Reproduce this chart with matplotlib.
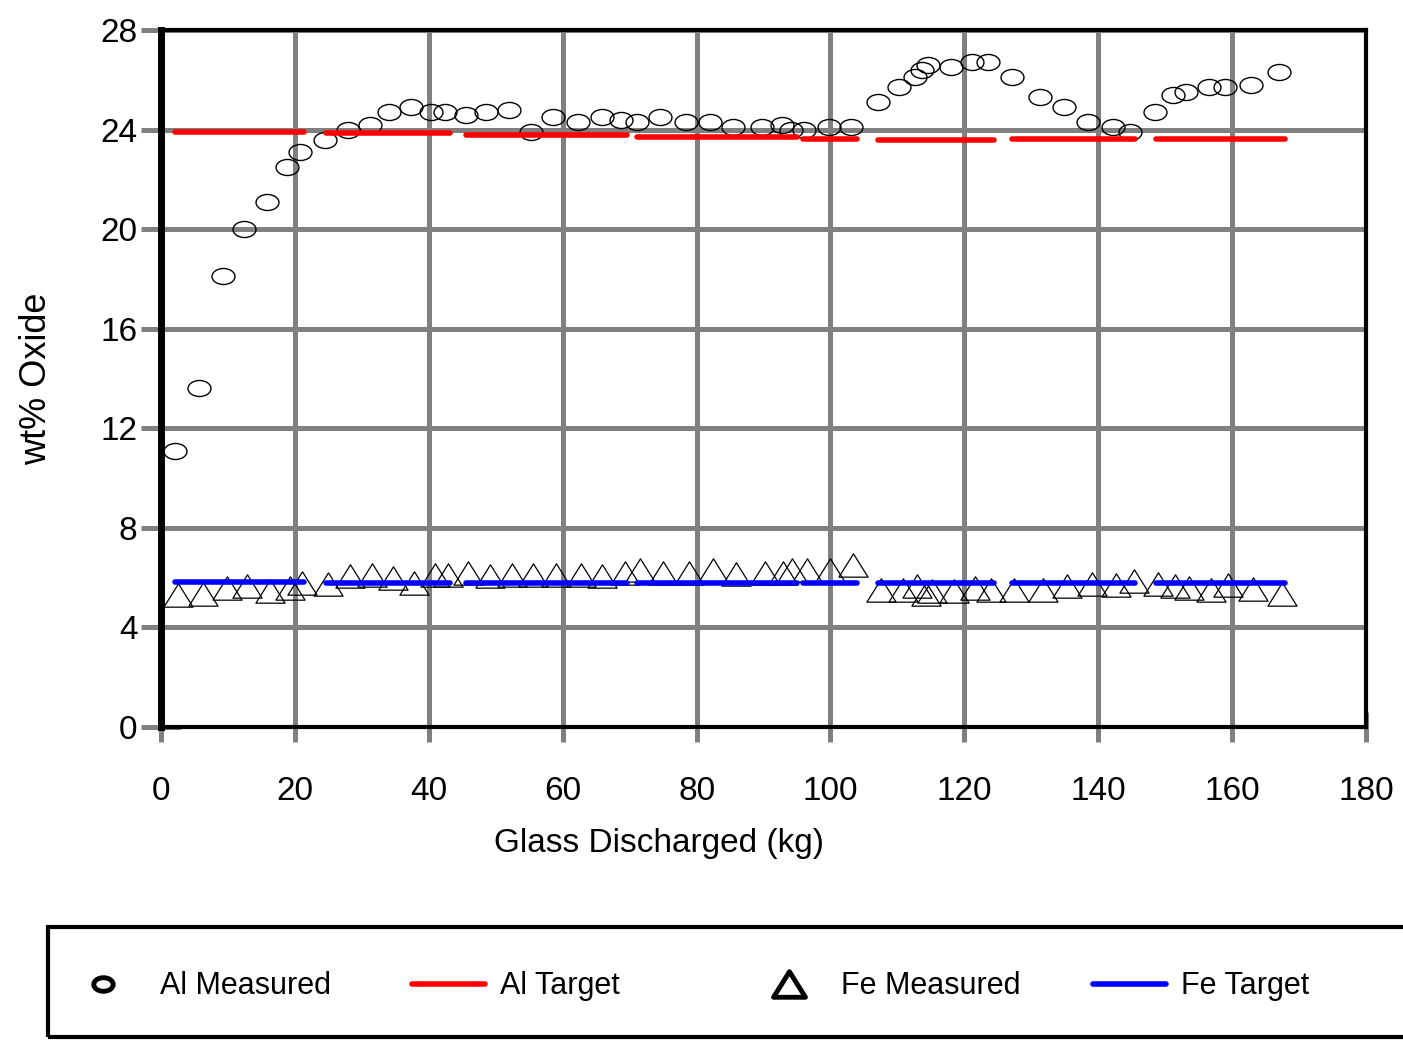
import numpy as np
import matplotlib
matplotlib.use('Agg')
import matplotlib.pyplot as plt
from matplotlib.path import Path
from matplotlib.transforms import Affine2D
from matplotlib.lines import Line2D
from matplotlib.patches import Rectangle

plt.rcParams['font.family'] = ['Liberation Sans', 'DejaVu Sans']

# Al measured (wt% oxide vs glass discharged, kg)
al_x = [2.1, 5.6, 9.3, 12.4, 15.9, 18.8, 20.7, 24.5, 27.9, 31.2, 34.1, 37.3, 40.3, 42.4,
        45.5, 48.5, 52.0, 55.3, 58.6, 62.3, 65.9, 68.7, 71.1, 74.6, 78.4, 82.0, 85.4, 89.8,
        92.8, 94.1, 96.0, 99.8, 103.1, 107.1, 110.2, 112.6, 113.7, 114.6, 118.0, 121.1,
        123.5, 127.1, 131.3, 134.9, 138.5, 142.2, 144.7, 148.5, 151.2, 153.1, 156.5, 158.9,
        162.8, 167.0]
al_y = [11.1, 13.6, 18.1, 20.0, 21.1, 22.5, 23.1, 23.6, 24.0, 24.2, 24.7, 24.9, 24.7, 24.7,
        24.6, 24.7, 24.8, 23.9, 24.5, 24.3, 24.5, 24.4, 24.3, 24.5, 24.3, 24.3, 24.1, 24.1,
        24.2, 24.0, 24.0, 24.1, 24.1, 25.1, 25.7, 26.1, 26.4, 26.6, 26.5, 26.7,
        26.7, 26.1, 25.3, 24.9, 24.3, 24.1, 23.9, 24.7, 25.4, 25.5, 25.7, 25.7,
        25.8, 26.3]

# Fe measured
fe_x = [2.5, 6.2, 9.8, 12.8, 16.3, 19.3, 21.1, 25.0, 28.2, 31.5, 34.6, 37.8, 40.9, 42.8,
        45.8, 49.1, 52.4, 55.6, 59.0, 62.8, 65.9, 69.3, 71.5, 75.0, 78.9, 82.5, 85.9, 90.2,
        92.9, 94.2, 96.5, 100.0, 103.4, 107.5, 110.8, 112.9, 114.3, 115.1, 118.5, 121.6,
        124.0, 127.4, 131.8, 135.4, 139.0, 142.7, 145.3, 149.0, 151.5, 153.5, 156.9, 159.4,
        163.1, 167.4]
fe_y = [5.3, 5.35, 5.6, 5.65, 5.45, 5.6, 5.8, 5.75, 6.05, 6.1, 6.0, 5.8, 6.1, 6.1,
        6.2, 6.05, 6.1, 6.1, 6.1, 6.1, 6.05, 6.2, 6.3, 6.2, 6.2, 6.3, 6.15, 6.2,
        6.2, 6.3, 6.3, 6.3, 6.5, 5.5, 5.5, 5.65, 5.35, 5.45, 5.45, 5.6,
        5.5, 5.5, 5.5, 5.65, 5.75, 5.7, 5.85, 5.75, 5.65, 5.6, 5.5, 5.7,
        5.55, 5.35]

# target segments (one per batch)
seg_start = [2.1, 24.6, 45.6, 71.1, 95.9, 107.1, 127.1, 148.6]
seg_end = [21.4, 43.2, 69.6, 95.0, 104.0, 124.4, 145.5, 167.9]
al_target = [23.9, 23.88, 23.77, 23.71, 23.64, 23.60, 23.64, 23.64]
fe_target = [5.81, 5.80, 5.79, 5.79, 5.79, 5.77, 5.79, 5.79]

x_ticks = [0, 20, 40, 60, 80, 100, 120, 140, 160, 180]
y_ticks = [0, 4, 8, 12, 16, 20, 24, 28]
legend_labels = ['Al Measured', 'Al Target', 'Fe Measured', 'Fe Target']

# flattened circle and triangle markers like the original
ellipse = Path.unit_circle().transformed(Affine2D().scale(1, 0.7))
tri = Path([(-1, -0.8), (1, -0.8), (0, 0.8), (0, 0)],
           [Path.MOVETO, Path.LINETO, Path.LINETO, Path.CLOSEPOLY])

GRAY = '#808080'

fig = plt.figure(figsize=(14.03, 10.42), dpi=100)
ax = fig.add_axes([0.1148, 0.3023, 0.8588, 0.6689])

ax.plot(al_x, al_y, linestyle='none', marker=ellipse, markersize=16.5,
        mfc='none', mec='black', mew=1.0)
ax.plot(fe_x, fe_y, linestyle='none', marker=tri, markersize=21,
        mfc='none', mec='black', mew=0.9)
ax.hlines(al_target, seg_start, seg_end, colors='#ff0000', linewidth=4, capstyle='round')
ax.hlines(fe_target, seg_start, seg_end, colors='#0000ff', linewidth=4, capstyle='round')

ax.set_xlim(0, 180)
ax.set_ylim(0, 28)
ax.set_xticks(x_ticks)
ax.set_yticks(y_ticks)
ax.grid(True, color=GRAY, linewidth=3.6)
ax.tick_params(axis='y', direction='inout', length=29, width=3.6, color=GRAY,
               pad=2.5, labelsize=24)
ax.tick_params(axis='x', direction='inout', length=21, width=3.6, color=GRAY,
               pad=25, labelsize=24)
for side in ['top', 'right', 'bottom']:
    ax.spines[side].set_linewidth(3)
ax.spines['left'].set_linewidth(5)

ax.set_xlabel('Glass Discharged (kg)', fontsize=24)
ax.xaxis.set_label_coords(0.4133, -0.145)
ax.set_ylabel('wt% Oxide', fontsize=26)
ax.yaxis.set_label_coords(-0.089, 0.5)

# legend box along the bottom, running off the right edge
W, H = 1403.0, 1042.0
fig.add_artist(Rectangle((48 / W, 5 / H), 1.2, 110 / H, transform=fig.transFigure,
                         fill=False, edgecolor='black', linewidth=3))
ly = 1 - 984 / H
fig.add_artist(Line2D([103 / W], [ly], transform=fig.transFigure, linestyle='none',
                      marker=ellipse, markersize=14, mfc='white', mec='black', mew=3.5))
fig.add_artist(Line2D([412 / W, 485 / W], [ly, ly], transform=fig.transFigure,
                      color='#ff0000', linewidth=4, solid_capstyle='round'))
fig.add_artist(Line2D([789 / W], [ly], transform=fig.transFigure, linestyle='none',
                      marker=tri, markersize=23, mfc='white', mec='black', mew=3.5))
fig.add_artist(Line2D([1093 / W, 1166 / W], [ly, ly], transform=fig.transFigure,
                      color='#0000ff', linewidth=4, solid_capstyle='round'))
for px, lab in zip([160, 500, 841, 1181], legend_labels):
    fig.text(px / W, 1 - 986 / H, lab, fontsize=22, ha='left', va='center')

fig.savefig('out.png', dpi=100)
